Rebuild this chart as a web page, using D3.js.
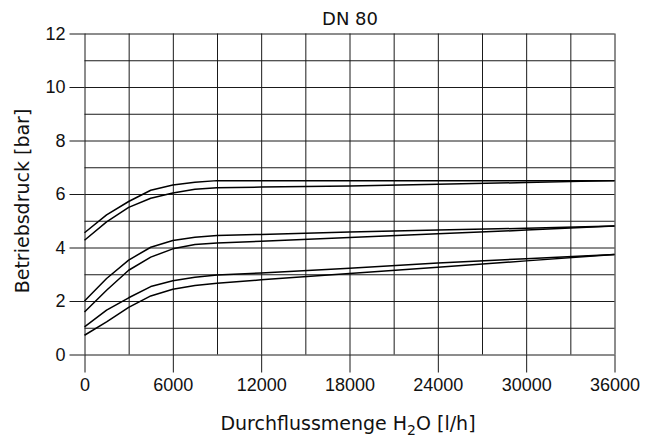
<!DOCTYPE html>
<html>
<head>
<meta charset="utf-8">
<script src="https://cdn.jsdelivr.net/npm/d3@7"></script>
<style>
  body { margin: 0; background: #fff; }
  svg { display: block; }
  .tick text { font-family: "Liberation Sans", Arial, sans-serif; font-size: 18px; fill: #111; }
  .label { font-family: "DejaVu Sans", sans-serif; font-size: 18px; fill: #111; }
  .axis-title { font-size: 19px; }
</style>
</head>
<body>
<svg id="chart" width="657" height="440"></svg>
<script>
const flow = [0, 1500, 3000, 4500, 6000, 7500, 9000, 12000, 18000, 24000, 30000, 36000];

// pressure curves (bar), three pairs
const curveA = [4.55, 5.22, 5.72, 6.14, 6.34, 6.44, 6.50, 6.50, 6.50, 6.50, 6.50, 6.50];
const curveB = [4.27, 4.96, 5.50, 5.84, 6.04, 6.18, 6.23, 6.26, 6.30, 6.36, 6.43, 6.50];
const curveC = [2.00, 2.84, 3.53, 4.01, 4.26, 4.38, 4.45, 4.49, 4.58, 4.65, 4.72, 4.80];
const curveD = [1.59, 2.40, 3.15, 3.64, 3.95, 4.11, 4.17, 4.23, 4.37, 4.51, 4.65, 4.80];
const curveE = [1.03, 1.66, 2.12, 2.54, 2.76, 2.89, 2.97, 3.05, 3.22, 3.42, 3.58, 3.74];
const curveF = [0.72, 1.22, 1.76, 2.19, 2.44, 2.58, 2.66, 2.79, 3.03, 3.26, 3.50, 3.74];

const xTicks = [0, 6000, 12000, 18000, 24000, 30000, 36000];
const xGrid = d3.range(0, 36001, 3000);
const yTicks = [0, 2, 4, 6, 8, 10, 12];
const yGrid = d3.range(0, 13, 1);

const svg = d3.select("#chart");

// plot box
const M = { left: 84.5, right: 614.5, top: 33.5, bottom: 354.5 };

const x = d3.scaleLinear().domain([0, 36000]).range([M.left, M.right]);
const y = d3.scaleLinear().domain([0, 12]).range([M.bottom, M.top]);

// grid lines
svg.append("g")
  .attr("transform", `translate(0,${M.bottom})`)
  .call(d3.axisBottom(x).tickValues(xGrid).tickSize(-(M.bottom - M.top)).tickFormat(""))
  .call(g => g.select(".domain").remove());

svg.append("g")
  .attr("transform", `translate(${M.left},0)`)
  .call(d3.axisLeft(y).tickValues(yGrid).tickSize(-(M.right - M.left)).tickFormat(""))
  .call(g => g.select(".domain").remove());

// labelled axes with the long outside ticks
svg.append("g")
  .attr("transform", `translate(0,${M.bottom})`)
  .call(d3.axisBottom(x).tickValues(xTicks).tickSize(18).tickPadding(6).tickFormat(d3.format("d")))
  .call(g => g.select(".domain").remove());

svg.append("g")
  .attr("transform", `translate(${M.left},0)`)
  .call(d3.axisLeft(y).tickValues(yTicks).tickSize(15).tickPadding(4))
  .call(g => g.select(".domain").remove());

svg.selectAll(".tick line").attr("stroke", "#1a1a1a").attr("stroke-width", 1);

// curves
const line = d3.line()
  .x((d, i) => x(flow[i]))
  .y(d => y(d));

svg.append("g")
  .selectAll("path")
  .data([curveA, curveB, curveC, curveD, curveE, curveF])
  .join("path")
  .attr("d", line)
  .attr("fill", "none")
  .attr("stroke", "#000")
  .attr("stroke-width", 1.5)
  .attr("stroke-linejoin", "round");

// title
svg.append("text")
  .attr("class", "label")
  .attr("x", 350)
  .attr("y", 25)
  .attr("text-anchor", "middle")
  .text("DN 80");

// x axis label with subscript
const xl = svg.append("text")
  .attr("class", "label axis-title")
  .attr("x", 348)
  .attr("y", 430)
  .attr("text-anchor", "middle");
xl.append("tspan").text("Durchflussmenge H");
xl.append("tspan").attr("dy", 5).style("font-size", "14px").text("2");
xl.append("tspan").attr("dy", -5).text("O [l/h]");

// y axis label
svg.append("text")
  .attr("class", "label axis-title")
  .attr("transform", "translate(29,201) rotate(-90)")
  .attr("text-anchor", "middle")
  .text("Betriebsdruck [bar]");
</script>
</body>
</html>
